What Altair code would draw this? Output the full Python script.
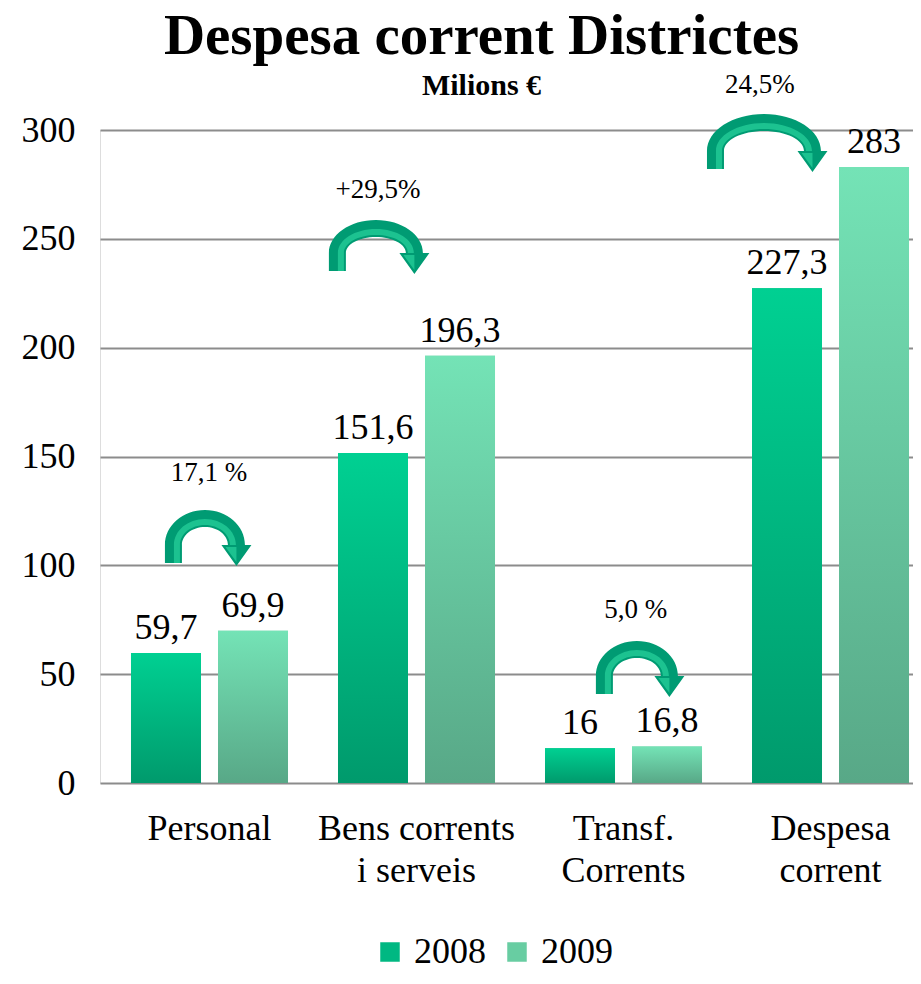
import altair as alt
import pandas as pd

# ---------------- data ----------------
categories = ["Personal", "Bens corrents|i serveis", "Transf.|Corrents", "Despesa|corrent"]
years = ["2008", "2009"]
values_2008 = [59.7, 151.6, 16.0, 227.3]
values_2009 = [69.9, 196.3, 16.8, 283.0]
labels_2008 = ["59,7", "151,6", "16", "227,3"]
labels_2009 = ["69,9", "196,3", "16,8", "283"]

# growth annotations (x in category units: 0 = centre of first category)
pct_labels = ["17,1 %", "+29,5%", "5,0 %", "24,5%"]
pct_x = [-0.002, 0.814, 2.060, 2.659]
pct_y = [142.4, 272.4, 79.5, 320.7]
arrow_x = [-0.022, 0.804, 2.065, 2.679]
arrow_y = [109.3, 243.5, 49.2, 290.4]
arrow_a = [40, 47, 41, 57]   # half width of arch (px)
arrow_b = [35, 33, 35, 37]   # height of arch (px)

FONT = "Liberation Serif"

rows = []
for i, c in enumerate(categories):
    rows.append({"category": c, "year": "2008", "value": values_2008[i], "label": labels_2008[i]})
    rows.append({"category": c, "year": "2009", "value": values_2009[i], "label": labels_2009[i]})
df = pd.DataFrame(rows)


def arrow_path(a, b, t=17, leg=18, hw=15, hh=21):
    ai, bi = a - t, b - t
    m = a - t / 2
    return (f"M{-a},{leg} L{-a},0 A{a},{b} 0 0 1 {a},0 L{m + hw},0 L{m},{hh} L{m - hw},0 L{ai},0 "
            f"A{ai},{bi} 0 0 0 {-ai},0 L{-ai},{leg} Z")


def stripe_path(a, b, t=17, leg=18, hh=21):
    ai, bi = a - t, b - t
    r1, r2 = ai + 2, ai + 8
    m = a - t / 2
    return (f"M{-r2},{leg} L{-r2},0 A{r2},{bi + 8} 0 0 1 {r2},0 L{r1},0 "
            f"A{r1},{bi + 2} 0 0 0 {-r1},0 L{-r1},{leg} Z "
            f"M{m - 11},2 L{m},{hh - 4} L{m},2 Z")


ann = pd.DataFrame({
    "ax": arrow_x, "ay": arrow_y,
    "path": [arrow_path(a, b) for a, b in zip(arrow_a, arrow_b)],
    "stripe": [stripe_path(a, b) for a, b in zip(arrow_a, arrow_b)],
})
pct = pd.DataFrame({"px": pct_x, "py": pct_y, "txt": pct_labels})

# ---------------- scales ----------------
yscale = alt.Scale(domain=[0, 300], nice=False)
xenc = alt.X("category:N", sort=categories,
             scale=alt.Scale(paddingInner=0.2415, paddingOuter=0.0845, align=0.886),
             axis=alt.Axis(title=None, labelExpr="split(datum.label, '|')",
                           labelFont=FONT, labelFontSize=36, labelColor="black",
                           labelLineHeight=42, labelPadding=28, labelAngle=0, labelLimit=400,
                           ticks=False, domain=False, grid=False, labelBaseline="top"))
xoff = alt.XOffset("year:N", scale=alt.Scale(domain=years, paddingInner=0.1954, paddingOuter=0))
yenc = alt.Y("value:Q", scale=yscale,
             axis=alt.Axis(title=None, values=[0, 50, 100, 150, 200, 250, 300],
                           labelFont=FONT, labelFontSize=36, labelColor="black",
                           labelPadding=25, ticks=False, domain=False,
                           gridColor="#8c8c8c", gridWidth=2))

base = alt.Chart(df)

bars = base.mark_bar().encode(
    x=xenc, xOffset=xoff, y=yenc,
    color=alt.Color("year:N", scale=alt.Scale(domain=years, range=["#00B882", "#68CDA2"]),
                    legend=alt.Legend(title=None, orient="none", legendX=272, legendY=804,
                                      direction="horizontal", symbolType="square",
                                      symbolSize=380, symbolStrokeWidth=0,
                                      labelFont=FONT, labelFontSize=36, labelColor="black",
                                      labelOffset=6, columnPadding=13)),
)


def grad(top, bottom):
    return alt.Gradient(gradient="linear",
                        stops=[alt.GradientStop(color=top, offset=0),
                               alt.GradientStop(color=bottom, offset=1)],
                        x1=0, x2=0, y1=0, y2=1)


g08 = base.transform_filter(alt.datum.year == "2008").mark_bar(
    fill=grad("#00D092", "#009A6C")).encode(x=xenc, xOffset=xoff, y=yenc)
g09 = base.transform_filter(alt.datum.year == "2009").mark_bar(
    fill=grad("#74E3B6", "#58A887")).encode(x=xenc, xOffset=xoff, y=yenc)

vlabels = base.mark_text(font=FONT, fontSize=36, color="black", baseline="alphabetic", dy=-14).encode(
    x=xenc, xOffset=xoff, y=yenc, text="label:N")

bar_group = alt.layer(bars, g08, g09, vlabels)

ax = alt.Scale(domain=[-0.529, 3.399], nice=False, zero=False)
arrows = alt.Chart(ann).mark_point(filled=True, size=4, opacity=1, strokeWidth=0, color="#009B73").encode(
    x=alt.X("ax:Q", scale=ax, axis=None),
    y=alt.Y("ay:Q", scale=yscale),
    shape=alt.Shape("path:N", scale=None),
)
stripes = alt.Chart(ann).mark_point(filled=True, size=4, opacity=1, strokeWidth=0, color="#1CC290").encode(
    x=alt.X("ax:Q", scale=ax, axis=None),
    y=alt.Y("ay:Q", scale=yscale),
    shape=alt.Shape("stripe:N", scale=None),
)
pct_text = alt.Chart(pct).mark_text(font=FONT, fontSize=27, color="black", baseline="middle").encode(
    x=alt.X("px:Q", scale=ax, axis=None),
    y=alt.Y("py:Q", scale=yscale),
    text="txt:N",
)
ann_group = alt.layer(arrows, stripes, pct_text)

chart = alt.layer(bar_group, ann_group).resolve_scale(x="independent").properties(
    width=813, height=653,
    autosize=alt.AutoSizeParams(type="none"),
    padding={"left": 92, "top": 122, "right": 0, "bottom": 187},
    title=alt.TitleParams("Despesa corrent Districtes", subtitle="Milions €",
                          font=FONT, fontSize=57, fontWeight="bold", color="black",
                          subtitleFont=FONT, subtitleFontSize=30, subtitleFontWeight="bold",
                          subtitleColor="black", anchor="middle", dx=-25, dy=43, offset=12,
                          subtitlePadding=5),
).configure_view(stroke=None).configure(background="white")

chart.save("out.html", embed_options={"renderer": "svg", "actions": False})
